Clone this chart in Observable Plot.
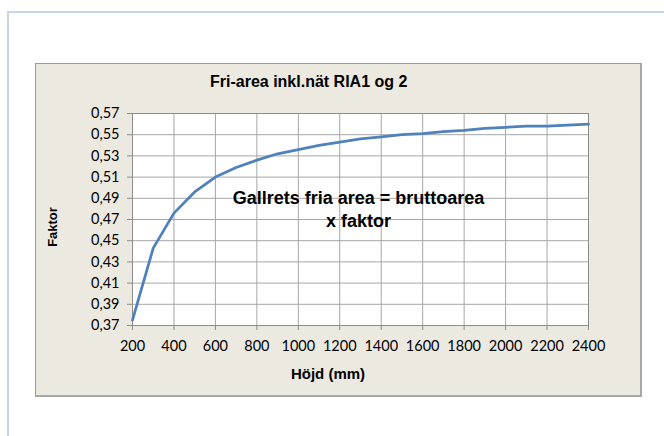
<!DOCTYPE html>
<html>
<head>
<meta charset="utf-8">
<script src="https://cdn.jsdelivr.net/npm/d3@7"></script>
<script src="https://cdn.jsdelivr.net/npm/@observablehq/plot@0.6"></script>
<style>
  html, body { margin: 0; padding: 0; background: #fff; width: 664px; height: 436px; overflow: hidden; }
  #page { position: relative; width: 664px; height: 436px; }
  #outer { position: absolute; left: 7px; top: 11px; right: -10px; bottom: -10px;
           border-left: 2px solid #c9d5ee; border-top: 2px solid #c9d5ee; }
  #box { position: absolute; left: 35px; top: 63px; width: 604px; height: 331px;
         background: #ECE9E0; border: 1px solid #9a9a9a; border-right: 2px solid #a8a8a8; border-bottom: 2px solid #a8a8a8; }
  #chart { position: absolute; left: 0; top: 0; }
  .lbl { position: absolute; font-family: "Liberation Sans", Arial, sans-serif; font-weight: bold; color: #000; white-space: nowrap; }
  #title { left: 210px; top: 73px; font-size: 16px; }
  #ylab { left: 52px; top: 227px; font-size: 13px; transform: translate(-50%, -50%) rotate(-90deg); }
  #xlab { left: 328px; top: 365px; font-size: 15px; transform: translateX(-50%); }
</style>
</head>
<body>
<div id="page">
  <div id="outer"></div>
  <div id="box"></div>
  <div id="chart"></div>
  <div class="lbl" id="title">Fri-area inkl.nät RIA1 og 2</div>
  <div class="lbl" id="ylab">Faktor</div>
  <div class="lbl" id="xlab">Höjd (mm)</div>
</div>
<script>
// Data
const hojd = [200, 300, 400, 500, 600, 700, 800, 900, 1000, 1100, 1200, 1300, 1400, 1500, 1600, 1700, 1800, 1900, 2000, 2100, 2200, 2300, 2400];
const faktor = [0.375, 0.443, 0.476, 0.496, 0.510, 0.519, 0.526, 0.532, 0.536, 0.540, 0.543, 0.546, 0.548, 0.550, 0.551, 0.553, 0.554, 0.556, 0.557, 0.558, 0.558, 0.559, 0.560];
const xTicks = [200, 400, 600, 800, 1000, 1200, 1400, 1600, 1800, 2000, 2200, 2400];
const yTicks = [0.37, 0.39, 0.41, 0.43, 0.45, 0.47, 0.49, 0.51, 0.53, 0.55, 0.57];
const annotation = "Gallrets fria area = bruttoarea\nx faktor";

const rows = hojd.map((h, i) => ({hojd: h, faktor: faktor[i]}));
const commaFmt = v => d3.format(".2f")(v).replace(".", ",");

const chart = Plot.plot({
  width: 664,
  height: 436,
  marginLeft: 132,
  marginRight: 76,
  marginTop: 113,
  marginBottom: 111,
  style: { background: "transparent", fontFamily: "Lato, 'Open Sans', sans-serif", fontSize: "14.5px", color: "#000" },
  x: { domain: [200, 2400], ticks: xTicks, label: null },
  y: { domain: [0.37, 0.57], ticks: yTicks, label: null },
  marks: [
    Plot.frame({ fill: "white" }),
    Plot.gridX(xTicks, { stroke: "#a6a6a6", strokeOpacity: 1, strokeWidth: 1 }),
    Plot.gridY(yTicks, { stroke: "#a6a6a6", strokeOpacity: 1, strokeWidth: 1 }),
    Plot.frame({ stroke: "#8c8c8c", strokeWidth: 1 }),
    Plot.axisX({ ticks: xTicks, tickSize: 5, tickPadding: 10, stroke: "#8c8c8c", strokeOpacity: 1, tickFormat: d => String(d), fill: "#000", fontSize: 14.5, label: null }),
    Plot.axisY({ ticks: yTicks, tickSize: 5, tickPadding: 8, stroke: "#8c8c8c", strokeOpacity: 1, tickFormat: commaFmt, fill: "#000", fontSize: 14.5, label: null }),
    Plot.line(rows, { x: "hojd", y: "faktor", stroke: "#4F81BD", strokeWidth: 2.75, strokeLinejoin: "round" }),
    Plot.text([annotation], {
      frameAnchor: "middle", dx: -2, dy: -11, text: d => d,
      fontFamily: "'Liberation Sans', Arial, sans-serif", fontWeight: "bold", fontSize: 18,
      lineHeight: 1.28, fill: "#000"
    })
  ]
});
document.getElementById("chart").appendChild(chart);
</script>
</body>
</html>
